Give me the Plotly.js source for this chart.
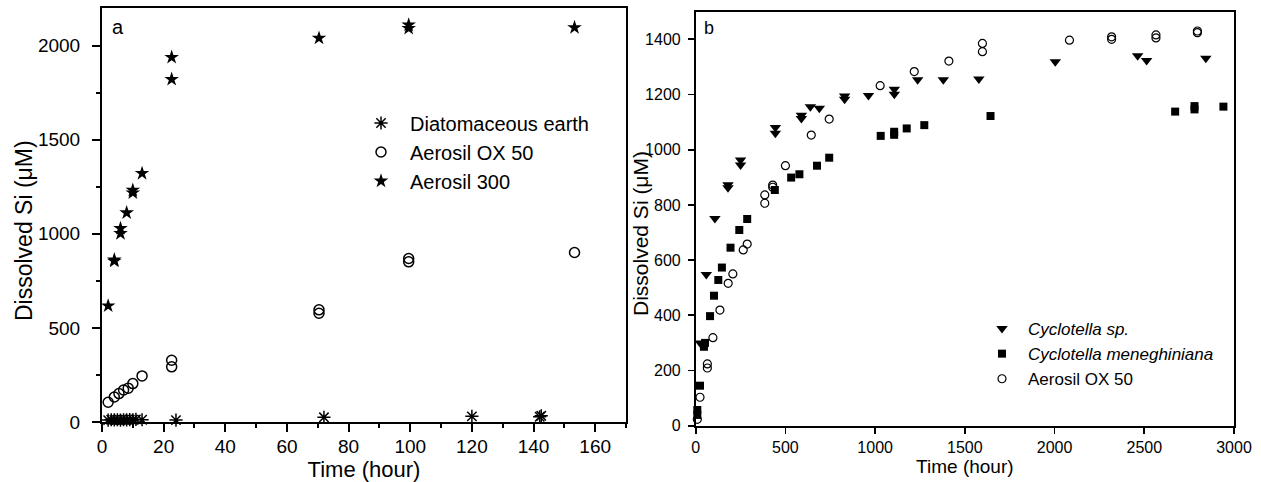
<!DOCTYPE html>
<html>
<head>
<meta charset="utf-8">
<script src="https://cdn.plot.ly/plotly-3.0.1.min.js"></script>
<style>html,body{margin:0;padding:0;background:#fff;}#chart{width:1261px;height:482px;}</style>
</head>
<body>
<div id="chart"></div>
<script>
// ---- Panel a data ----
const deTime = [2,3,4,5,6,7,8,9,10,11,13,24,72,120,142,142.5];
const deSi   = [10,12,11,12,10,12,11,13,12,14,12,10,25,30,28,33];
const oxATime = [2,4,5.5,7,8.5,10,13,22.6,22.6,70.4,70.4,99.5,99.5,153.3];
const oxASi   = [105,133,151,170,180,204,245,328,293,596,578,869,851,901];
const a300Time = [2,4,4,6,6,8,10,10,13,22.6,22.6,70.4,99.5,99.5,153.3];
const a300Si   = [617,855,862,1002,1029,1112,1218,1232,1321,1938,1821,2040,2110,2092,2096];

// ---- Panel b data ----
const cspTime = [25,59,107,180,180,250,250,444,444,589,589,639,689,830,830,963,1107,1107,1237,1380,1578,2004,2463,2513,2843];
const cspSi   = [300,548,751,873,862,963,945,1080,1060,1125,1113,1156,1150,1195,1183,1196,1219,1201,1253,1253,1256,1319,1340,1323,1331];
const cmTime = [9,9,24,46,52,80,102,126,146,194,243,287,441,532,578,676,744,1031,1106,1106,1176,1274,1643,2672,2780,2780,2941];
const cmSi   = [57,39,145,286,300,397,471,528,573,645,709,749,854,899,911,942,971,1050,1054,1065,1077,1089,1122,1138,1158,1146,1156];
const oxBTime = [9,24,65,65,96,135,181,207,265,287,385,385,429,429,500,644,744,1028,1218,1411,1598,1598,2083,2318,2318,2565,2565,2796,2796];
const oxBSi   = [23,103,224,209,319,419,516,550,637,658,836,806,872,864,942,1053,1111,1232,1283,1321,1385,1355,1397,1409,1400,1416,1405,1430,1424];

const FONT = 'Liberation Sans, Arial, sans-serif';
const W = 1261, H = 482;
const px = v => v / W;
const py = v => 1 - v / H;

const traces = [
  {x: deTime, y: deSi, name: 'Diatomaceous earth', type: 'scatter', mode: 'markers',
   xaxis: 'x', yaxis: 'y', legend: 'legend', cliponaxis: false,
   marker: {symbol: 'asterisk-open', size: 11, color: '#000', line: {color: '#000', width: 1.5}}},
  {x: oxATime, y: oxASi, name: 'Aerosil OX 50', type: 'scatter', mode: 'markers',
   xaxis: 'x', yaxis: 'y', legend: 'legend', cliponaxis: false,
   marker: {symbol: 'circle-open', size: 10, color: '#000', line: {color: '#000', width: 1.5}}},
  {x: a300Time, y: a300Si, name: 'Aerosil 300', type: 'scatter', mode: 'markers',
   xaxis: 'x', yaxis: 'y', legend: 'legend', cliponaxis: false,
   marker: {symbol: 'star', size: 11, color: '#000', line: {width: 0}}},
  {x: cspTime, y: cspSi, name: '<i>Cyclotella sp.</i>', type: 'scatter', mode: 'markers',
   xaxis: 'x2', yaxis: 'y2', legend: 'legend2', cliponaxis: false,
   marker: {symbol: 'triangle-down', size: 10, color: '#000', line: {width: 0}}},
  {x: cmTime, y: cmSi, name: '<i>Cyclotella meneghiniana</i>', type: 'scatter', mode: 'markers',
   xaxis: 'x2', yaxis: 'y2', legend: 'legend2', cliponaxis: false,
   marker: {symbol: 'square', size: 8, color: '#000', line: {width: 0}}},
  {x: oxBTime, y: oxBSi, name: 'Aerosil OX 50', type: 'scatter', mode: 'markers',
   xaxis: 'x2', yaxis: 'y2', legend: 'legend2', cliponaxis: false,
   marker: {symbol: 'circle-open', size: 8, color: '#000', line: {color: '#000', width: 1.2}}}
];

const axA = {
  showgrid: false, zeroline: false, showline: true, mirror: true,
  linecolor: '#000', linewidth: 2, ticks: 'outside', ticklen: 8, tickwidth: 2,
  tickcolor: '#000', tickfont: {family: FONT, size: 19, color: '#000'}
};
const axB = {
  showgrid: false, zeroline: false, showline: true, mirror: true,
  linecolor: '#000', linewidth: 1.8, ticks: 'outside', ticklen: 6, tickwidth: 1.8,
  tickcolor: '#000', tickfont: {family: FONT, size: 16, color: '#000'}
};

const layout = {
  width: W, height: H,
  margin: {l: 0, r: 0, t: 0, b: 0},
  paper_bgcolor: '#fff', plot_bgcolor: '#fff',
  font: {family: FONT, color: '#000'},
  showlegend: true,
  xaxis: Object.assign({}, axA, {
    domain: [px(102), px(626)], range: [0, 170], dtick: 20, tick0: 0, anchor: 'y',
    ticklabelstandoff: -2,
    minor: {dtick: 10, ticks: 'outside', ticklen: 4, tickwidth: 2, tickcolor: '#000'},
    title: {text: 'Time (hour)', font: {family: FONT, size: 22, color: '#000'}, standoff: 4}
  }),
  yaxis: Object.assign({}, axA, {
    domain: [py(422), py(8)], range: [0, 2200], dtick: 500, tick0: 0, anchor: 'x',
    ticklabelstandoff: 8,
    minor: {dtick: 250, ticks: 'outside', ticklen: 4, tickwidth: 2, tickcolor: '#000'}
  }),
  xaxis2: Object.assign({}, axB, {
    domain: [px(695.7), px(1234)], range: [0, 3000], dtick: 500, tick0: 0, anchor: 'y2',
    title: {text: 'Time (hour)', font: {family: FONT, size: 19, color: '#000'}, standoff: 5}
  }),
  yaxis2: Object.assign({}, axB, {
    domain: [py(425.7), py(11.7)], range: [0, 1500], dtick: 200, tick0: 0, anchor: 'x2',
    ticklabelstandoff: 4
  }),
  legend: {
    x: px(352), y: py(103.5), xanchor: 'left', yanchor: 'top',
    bgcolor: 'rgba(0,0,0,0)', borderwidth: 0, itemwidth: 48,
    font: {family: FONT, size: 20, color: '#000'}
  },
  legend2: {
    x: px(976), y: py(311), xanchor: 'left', yanchor: 'top',
    bgcolor: 'rgba(0,0,0,0)', borderwidth: 0, itemwidth: 42,
    font: {family: FONT, size: 17, color: '#000'}
  },
  annotations: [
    {xref: 'paper', yref: 'paper', x: px(24), y: py(231), text: 'Dissolved Si (μM)',
     textangle: -90, showarrow: false, xanchor: 'center', yanchor: 'middle',
     font: {family: FONT, size: 23, color: '#000'}},
    {xref: 'paper', yref: 'paper', x: px(640), y: py(234), text: 'Dissolved Si (μM)',
     textangle: -90, showarrow: false, xanchor: 'center', yanchor: 'middle',
     font: {family: FONT, size: 21, color: '#000'}},
    {xref: 'paper', yref: 'paper', x: px(118), y: py(27), text: 'a',
     showarrow: false, xanchor: 'center', yanchor: 'middle',
     font: {family: FONT, size: 20, color: '#000'}},
    {xref: 'paper', yref: 'paper', x: px(709), y: py(28), text: 'b',
     showarrow: false, xanchor: 'center', yanchor: 'middle',
     font: {family: FONT, size: 18, color: '#000'}}
  ]
};

Plotly.newPlot('chart', traces, layout, {displayModeBar: false, staticPlot: true});
</script>
</body>
</html>
